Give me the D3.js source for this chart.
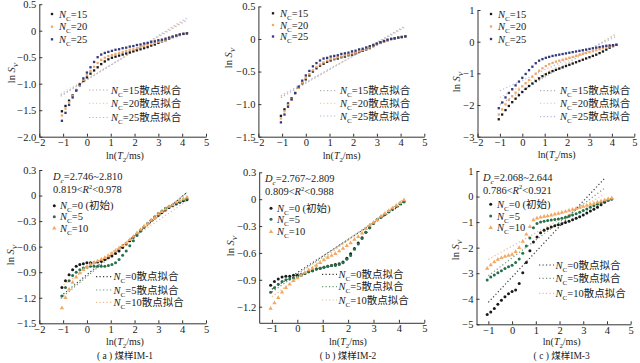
<!DOCTYPE html>
<html>
<head>
<meta charset="utf-8">
<script src="https://cdn.jsdelivr.net/npm/d3@7"></script>
<style>
body { margin: 0; background: #fff; }
svg text { font-family: "Liberation Serif", "Times New Roman", "Noto Sans CJK SC", serif; }
</style>
</head>
<body>
<div id="chart"></div>
<script>
// ln(T2/ms) positions of the NMR bins (shared by all panels)
var lnT2 = [-1.05,-0.9,-0.75,-0.6,-0.45,-0.3,-0.15,0,0.15,0.3,0.45,0.6,0.75,0.9,1.05,1.2,1.35,1.5,
            1.65,1.8,1.95,2.1,2.25,2.4,2.55,2.7,2.85,3.0,3.15,3.3,3.45,3.6,3.75,3.9,4.05,4.2];

// top row: Nc = 15, 20, 25
var topSeriesNames = ["15", "20", "25"];
var a1_nc15 = [-1.52,-1.42,-1.32,-1.22,-1.12,-1.03,-0.95,-0.88,-0.81,-0.75,-0.69,-0.63,-0.58,-0.54,-0.51,-0.49,-0.47,-0.45,
               -0.43,-0.41,-0.39,-0.37,-0.35,-0.33,-0.31,-0.28,-0.26,-0.23,-0.20,-0.18,-0.15,-0.12,-0.10,-0.08,-0.06,-0.05];
var a1_nc20 = [-1.60,-1.47,-1.35,-1.23,-1.12,-1.02,-0.93,-0.84,-0.76,-0.68,-0.61,-0.55,-0.51,-0.48,-0.46,-0.44,-0.42,-0.40,
               -0.38,-0.36,-0.35,-0.33,-0.31,-0.29,-0.27,-0.25,-0.23,-0.21,-0.19,-0.17,-0.14,-0.12,-0.10,-0.08,-0.06,-0.05];
var a1_nc25 = [-1.70,-1.55,-1.40,-1.26,-1.13,-1.01,-0.90,-0.79,-0.69,-0.59,-0.50,-0.45,-0.42,-0.40,-0.38,-0.36,-0.35,-0.33,
               -0.32,-0.30,-0.29,-0.27,-0.26,-0.24,-0.23,-0.21,-0.20,-0.18,-0.17,-0.15,-0.13,-0.11,-0.09,-0.07,-0.06,-0.05];
var a1_fitIntercept = [-0.92, -0.90, -0.93];
var a1_fitSlope = [0.27, 0.26, 0.28];

var b1_nc15 = [-1.18,-1.08,-0.99,-0.91,-0.83,-0.75,-0.68,-0.62,-0.56,-0.50,-0.45,-0.41,-0.38,-0.35,-0.33,-0.31,-0.30,-0.28,
               -0.27,-0.25,-0.24,-0.22,-0.20,-0.18,-0.16,-0.14,-0.11,-0.08,-0.06,-0.04,-0.02,0.00,0.01,0.02,0.03,0.04];
var b1_nc20 = [-1.22,-1.11,-1.01,-0.92,-0.83,-0.75,-0.67,-0.60,-0.54,-0.48,-0.43,-0.39,-0.36,-0.33,-0.31,-0.30,-0.28,-0.27,
               -0.25,-0.24,-0.22,-0.21,-0.19,-0.17,-0.15,-0.13,-0.10,-0.08,-0.06,-0.04,-0.02,0.00,0.01,0.02,0.03,0.04];
var b1_nc25 = [-1.28,-1.16,-1.04,-0.93,-0.83,-0.73,-0.64,-0.56,-0.49,-0.42,-0.37,-0.33,-0.30,-0.29,-0.27,-0.26,-0.25,-0.23,
               -0.22,-0.21,-0.19,-0.18,-0.16,-0.15,-0.13,-0.11,-0.09,-0.07,-0.05,-0.03,-0.01,0.00,0.01,0.02,0.03,0.04];
var b1_fitIntercept = [-0.68, -0.67, -0.66];
var b1_fitSlope = [0.21, 0.205, 0.20];

var c1_nc15 = [-2.45,-2.30,-2.16,-2.03,-1.91,-1.80,-1.69,-1.59,-1.49,-1.40,-1.32,-1.24,-1.16,-1.09,-1.03,-0.98,-0.93,-0.89,
               -0.85,-0.81,-0.77,-0.73,-0.69,-0.65,-0.61,-0.57,-0.53,-0.49,-0.45,-0.41,-0.36,-0.31,-0.25,-0.19,-0.14,-0.10];
var c1_nc20 = [-2.30,-2.14,-1.98,-1.84,-1.72,-1.61,-1.51,-1.41,-1.31,-1.21,-1.11,-1.01,-0.92,-0.84,-0.77,-0.71,-0.67,-0.63,
               -0.60,-0.57,-0.54,-0.51,-0.48,-0.45,-0.42,-0.39,-0.36,-0.33,-0.30,-0.27,-0.24,-0.21,-0.18,-0.15,-0.12,-0.10];
var c1_nc25 = [-2.10,-1.92,-1.76,-1.62,-1.50,-1.38,-1.26,-1.14,-1.02,-0.90,-0.79,-0.68,-0.60,-0.55,-0.51,-0.48,-0.45,-0.43,
               -0.41,-0.39,-0.37,-0.35,-0.33,-0.31,-0.29,-0.27,-0.25,-0.23,-0.21,-0.19,-0.17,-0.15,-0.13,-0.12,-0.11,-0.10];
var c1_fitIntercept = [-1.55, -1.38, -1.22];
var c1_fitSlope = [0.43, 0.38, 0.33];

// bottom row: Nc = 0 (initial), 5, 10
var botSeriesNames = ["0", "5", "10"];
var a2_nc0 = [-1.08,-1.00,-0.93,-0.87,-0.83,-0.81,-0.80,-0.79,-0.79,-0.79,-0.78,-0.77,-0.75,-0.73,-0.71,-0.68,-0.65,-0.61,
              -0.57,-0.53,-0.49,-0.45,-0.41,-0.37,-0.33,-0.29,-0.26,-0.23,-0.20,-0.17,-0.14,-0.12,-0.10,-0.08,-0.06,-0.05];
var a2_nc5 = [-1.18,-1.08,-1.00,-0.94,-0.90,-0.87,-0.85,-0.84,-0.83,-0.83,-0.83,-0.83,-0.83,-0.82,-0.81,-0.79,-0.75,-0.70,
              -0.65,-0.59,-0.53,-0.47,-0.42,-0.37,-0.33,-0.29,-0.25,-0.21,-0.18,-0.15,-0.13,-0.11,-0.09,-0.07,-0.05,-0.04];
var a2_nc10 = [-1.32,-1.20,-1.10,-1.02,-0.96,-0.91,-0.87,-0.84,-0.81,-0.79,-0.77,-0.75,-0.73,-0.71,-0.68,-0.65,-0.62,-0.59,
               -0.56,-0.52,-0.48,-0.44,-0.40,-0.36,-0.33,-0.29,-0.26,-0.22,-0.19,-0.16,-0.13,-0.11,-0.08,-0.06,-0.04,-0.02];
var a2_fitIntercept = [-0.93, -0.95, -0.86];
var a2_fitSlope = [0.23, 0.235, 0.19];

var b2_nc0 = [-0.96,-0.92,-0.89,-0.87,-0.86,-0.86,-0.85,-0.85,-0.84,-0.83,-0.81,-0.80,-0.78,-0.77,-0.76,-0.75,-0.74,-0.73,
              -0.72,-0.70,-0.66,-0.61,-0.55,-0.49,-0.43,-0.37,-0.32,-0.27,-0.23,-0.20,-0.17,-0.14,-0.11,-0.08,-0.05,-0.03];
var b2_nc5 = [-1.04,-0.99,-0.95,-0.92,-0.90,-0.89,-0.88,-0.87,-0.85,-0.83,-0.81,-0.80,-0.78,-0.77,-0.76,-0.75,-0.74,-0.74,
              -0.73,-0.71,-0.67,-0.63,-0.56,-0.50,-0.44,-0.37,-0.32,-0.27,-0.23,-0.20,-0.17,-0.14,-0.11,-0.08,-0.05,-0.03];
var b2_nc10 = [-1.22,-1.16,-1.10,-1.04,-0.99,-0.95,-0.91,-0.88,-0.85,-0.82,-0.79,-0.77,-0.74,-0.71,-0.68,-0.65,-0.63,-0.61,
               -0.58,-0.55,-0.52,-0.49,-0.45,-0.42,-0.38,-0.33,-0.29,-0.26,-0.23,-0.19,-0.16,-0.13,-0.10,-0.07,-0.04,-0.01];
var b2_fitIntercept = [-0.82, -0.84, -0.88];
var b2_fitSlope = [0.185, 0.195, 0.21];

var c2_nc0 = [-4.62,-4.52,-4.38,-4.22,-4.06,-3.92,-3.80,-3.72,-3.66,-3.40,-2.98,-2.58,-2.12,-1.78,-1.58,-1.42,-1.32,-1.25,
              -1.19,-1.14,-1.10,-1.06,-1.02,-0.97,-0.91,-0.85,-0.79,-0.72,-0.64,-0.57,-0.50,-0.42,-0.32,-0.22,-0.14,-0.10];
var c2_nc5 = [-3.27,-3.15,-3.07,-2.98,-2.90,-2.82,-2.75,-2.69,-2.58,-2.44,-2.22,-1.94,-1.62,-1.22,-1.05,-1.00,-0.97,-0.94,
              -0.92,-0.90,-0.88,-0.85,-0.81,-0.77,-0.72,-0.67,-0.61,-0.55,-0.49,-0.42,-0.36,-0.30,-0.24,-0.18,-0.13,-0.10];
var c2_nc10 = [-2.82,-2.68,-2.56,-2.46,-2.40,-2.35,-2.31,-2.27,-2.16,-2.00,-1.76,-1.48,-1.18,-0.92,-0.85,-0.81,-0.78,-0.76,
               -0.73,-0.69,-0.66,-0.62,-0.59,-0.55,-0.51,-0.47,-0.43,-0.39,-0.35,-0.31,-0.27,-0.22,-0.18,-0.14,-0.10,-0.07];
var c2_fitIntercept = [-3.15, -2.40, -1.94];
var c2_fitSlope = [0.99, 0.70, 0.52];

// tick labels
var xTicksFull = [-2, -1, 0, 1, 2, 3, 4, 5];
var xTicksShort = [-1, 0, 1, 2, 3, 4, 5];
var yTicksA1 = [0.5, 0, -0.5, -1.0, -1.5, -2.0];
var yTicksB1 = [0.5, 0, -0.5, -1.0, -1.5];
var yTicksC1 = [1, 0, -1, -2, -3];
var yTicksA2 = [0.3, 0, -0.3, -0.6, -0.9, -1.2, -1.5];
var yTicksB2 = [0.3, 0, -0.3, -0.6, -0.9, -1.2];
var yTicksC2 = [1, 0, -1, -2, -3, -4, -5];

var dcText = ["2.746~2.810", "2.767~2.809", "2.068~2.644"];
var r2Text = [["0.819", "0.978"], ["0.809", "0.988"], ["0.786", "0.921"]];
var captions = ["( a ) 煤样IM-1", "( b ) 煤样IM-2", "( c ) 煤样IM-3"];

var topColors = ["#1a1a1a", "#f0a868", "#33397a"];
var topFitColors = ["#b0b0b0", "#f7cda8", "#b4b8dc"];
var botColors = ["#1a1a1a", "#26704a", "#f2a862"];
var botFitColors = ["#3a3a3a", "#6d9a78", "#f2ba86"];

var svg = d3.select("#chart")
  .append("svg")
  .attr("width", 640)
  .attr("height", 363);

var fmt1 = d => d === 0 ? "0" : d3.format(".1f")(d);
var fmt0 = d => d3.format("d")(d);

// text with italic / subscript / superscript parts
function richText(g, x, y, parts, size, anchor, transform) {
  var t = g.append("text")
    .attr("x", x).attr("y", y)
    .attr("fill", "#222")
    .attr("text-anchor", anchor || "start")
    .style("font-size", size + "px");
  if (transform) t.attr("transform", transform);
  var shift = 0;
  parts.forEach(function(p) {
    var s = t.append("tspan").text(p[0]);
    var style = p[1] || "";
    var target = 0;
    if (style.indexOf("sub") >= 0) { target = size * 0.3; s.style("font-size", (size * 0.68) + "px"); }
    if (style.indexOf("sup") >= 0) { target = -size * 0.4; s.style("font-size", (size * 0.62) + "px"); }
    if (style.indexOf("i") === 0) s.style("font-style", "italic");
    if (target - shift !== 0) s.attr("dy", target - shift);
    shift = target;
  });
  return t;
}

function marker(g, shape, cx, cy, color) {
  if (shape === "square") {
    g.append("rect").attr("x", cx - 1.15).attr("y", cy - 1.15)
      .attr("width", 2.3).attr("height", 2.3).attr("fill", color);
  } else if (shape === "circle") {
    g.append("circle").attr("cx", cx).attr("cy", cy).attr("r", 1.5).attr("fill", color);
  } else {
    g.append("path").attr("d", d3.symbol(d3.symbolTriangle, 8)())
      .attr("transform", `translate(${cx},${cy})`).attr("fill", color);
  }
}

function drawPanel(p) {
  var x = d3.scaleLinear().domain(p.xDomain).range([p.left, p.right]);
  var y = d3.scaleLinear().domain(p.yDomain).range([p.bottom, p.top]);
  var g = svg.append("g");

  var xAxisG = g.append("g")
    .attr("transform", `translate(0,${p.bottom})`)
    .call(d3.axisBottom(x).tickValues(p.xTicks).tickSizeInner(-3).tickSizeOuter(0).tickPadding(2).tickFormat(fmt0));
  var yAxisG = g.append("g")
    .attr("transform", `translate(${p.left},0)`)
    .call(d3.axisLeft(y).tickValues(p.yTicks).tickSizeInner(-3).tickSizeOuter(0).tickPadding(3).tickFormat(p.yFormat));
  [xAxisG, yAxisG].forEach(function(a) {
    a.selectAll("path, line").attr("stroke", "#333");
    a.selectAll("text").attr("fill", "#222").style("font-size", "10.5px")
      .style("font-family", "'Liberation Serif', serif");
  });

  // fitted lines
  var fitLine = d3.line().x(d => x(d[0])).y(d => y(d[1]));
  p.fitA.forEach(function(a, i) {
    var b = p.fitB[i];
    var ends = p.fitRange.map(t => [t, a + b * t]);
    g.append("path").attr("d", fitLine(ends))
      .attr("fill", "none").attr("stroke", p.fitColors[i])
      .attr("stroke-width", 1.2).attr("stroke-dasharray", "1.2,2.3");
  });

  // scatter points
  p.series.forEach(function(ys, i) {
    var pg = g.append("g");
    ys.forEach(function(v, k) {
      marker(pg, p.shapes[i], x(lnT2[k]), y(v), p.colors[i]);
    });
  });

  // point legend
  p.series.forEach(function(ys, i) {
    var cy = p.legend.y[i];
    marker(g, p.shapes[i], p.legend.mx, cy, p.colors[i]);
    var parts = [["N", "i"], ["C", "sub"], ["=" + p.names[i] + (p.initial && i === 0 ? " (初始)" : ""), ""]];
    richText(g, p.legend.tx, cy + 3.6, parts, 10.5);
  });

  // fit legend
  p.series.forEach(function(ys, i) {
    var cy = p.fitLegend.y[i];
    g.append("line")
      .attr("x1", p.fitLegend.x0).attr("x2", p.fitLegend.x1)
      .attr("y1", cy).attr("y2", cy)
      .attr("stroke", p.fitColors[i]).attr("stroke-width", 1.2)
      .attr("stroke-dasharray", "1.2,2.3");
    richText(g, p.fitLegend.tx, cy + 3.6, [["N", "i"], ["C", "sub"], ["=" + p.names[i] + "散点拟合", ""]], 10.5);
  });

  // axis titles
  richText(g, p.xLabel[0], p.xLabel[1], [["ln(", ""], ["T", "i"], ["2", "sub"], ["/ms)", ""]], 10, "middle");
  richText(g, 0, 0, [["ln ", ""], ["S", "i"], ["V", "isub"]], 10.5, "middle",
    `translate(${p.yLabel[0]},${p.yLabel[1]}) rotate(-90)`);

  if (p.dc !== undefined) {
    richText(g, p.dcPos[0], p.dcPos[1], [["D", "i"], ["c", "isub"], ["=" + dcText[p.dc], ""]], 10.5);
    richText(g, p.dcPos[0], p.dcPos[1] + 13, [[r2Text[p.dc][0] + "<", ""], ["R", "i"], ["2", "sup"], ["<" + r2Text[p.dc][1], ""]], 10.5);
    g.append("text")
      .attr("x", p.xLabel[0]).attr("y", 359)
      .attr("text-anchor", "middle")
      .attr("fill", "#222")
      .style("font-size", "9.5px")
      .text(captions[p.dc]);
  }
}

var topShapes = ["square", "square", "square"];
var botShapes = ["circle", "circle", "triangle"];

drawPanel({
  xDomain: [-2, 5], yDomain: [-2, 0.5], left: 39.3, right: 206, top: 4.2, bottom: 136.7,
  xTicks: xTicksFull, yTicks: yTicksA1, yFormat: fmt1,
  series: [a1_nc15, a1_nc20, a1_nc25], names: topSeriesNames, shapes: topShapes,
  colors: topColors, fitColors: topFitColors, fitA: a1_fitIntercept, fitB: a1_fitSlope, fitRange: [-1.1, 4.2],
  legend: { mx: 52, tx: 59, y: [14, 26.7, 39.3] },
  fitLegend: { x0: 89, x1: 108, tx: 111, y: [90, 103.3, 117.5] },
  xLabel: [125, 158.5], yLabel: [15, 73]
});
drawPanel({
  xDomain: [-2, 5], yDomain: [-1.5, 0.5], left: 258.4, right: 424.3, top: 6.4, bottom: 136.7,
  xTicks: xTicksFull, yTicks: yTicksB1, yFormat: fmt1,
  series: [b1_nc15, b1_nc20, b1_nc25], names: topSeriesNames, shapes: topShapes,
  colors: topColors, fitColors: topFitColors, fitA: b1_fitIntercept, fitB: b1_fitSlope, fitRange: [-1.05, 4.15],
  legend: { mx: 273, tx: 280, y: [13.3, 25, 36.5] },
  fitLegend: { x0: 320, x1: 337, tx: 340, y: [90.7, 103.3, 116] },
  xLabel: [341.7, 158.5], yLabel: [231.5, 58]
});
drawPanel({
  xDomain: [-2, 5], yDomain: [-3, 1], left: 477.5, right: 634.3, top: 10, bottom: 136.7,
  xTicks: xTicksFull, yTicks: yTicksC1, yFormat: fmt0,
  series: [c1_nc15, c1_nc20, c1_nc25], names: topSeriesNames, shapes: topShapes,
  colors: topColors, fitColors: topFitColors, fitA: c1_fitIntercept, fitB: c1_fitSlope, fitRange: [-1.0, 4.2],
  legend: { mx: 491, tx: 498, y: [14, 26.5, 39] },
  fitLegend: { x0: 540, x1: 557, tx: 560, y: [90.7, 103.3, 116.7] },
  xLabel: [556.7, 158], yLabel: [460, 82]
});
drawPanel({
  xDomain: [-2, 5], yDomain: [-1.5, 0.3], left: 39.3, right: 206, top: 170, bottom: 323.3,
  xTicks: xTicksFull, yTicks: yTicksA2, yFormat: fmt1,
  series: [a2_nc0, a2_nc5, a2_nc10], names: botSeriesNames, shapes: botShapes, initial: true,
  colors: botColors, fitColors: botFitColors, fitA: a2_fitIntercept, fitB: a2_fitSlope, fitRange: [-1.1, 4.2],
  legend: { mx: 54.3, tx: 60, y: [205.7, 216.7, 228.3] },
  fitLegend: { x0: 96, x1: 112, tx: 113.5, y: [276.7, 290, 302.3] },
  xLabel: [125, 345], yLabel: [14, 255],
  dc: 0, dcPos: [53, 180]
});
drawPanel({
  xDomain: [-1.5, 5], yDomain: [-1.38, 0.3], left: 259.2, right: 424.3, top: 172.3, bottom: 322.8,
  xTicks: xTicksShort, yTicks: yTicksB2, yFormat: fmt1,
  series: [b2_nc0, b2_nc5, b2_nc10], names: botSeriesNames, shapes: botShapes, initial: true,
  colors: botColors, fitColors: botFitColors, fitA: b2_fitIntercept, fitB: b2_fitSlope, fitRange: [-1.0, 4.15],
  legend: { mx: 271, tx: 277, y: [208.3, 219.3, 231.7] },
  fitLegend: { x0: 322, x1: 337, tx: 338.5, y: [274.3, 286.7, 300] },
  xLabel: [348, 345], yLabel: [234, 246],
  dc: 1, dcPos: [265, 182]
});
drawPanel({
  xDomain: [-1.5, 5], yDomain: [-5, 1], left: 476.5, right: 630.7, top: 171, bottom: 324.3,
  xTicks: xTicksShort, yTicks: yTicksC2, yFormat: fmt0,
  series: [c2_nc0, c2_nc5, c2_nc10], names: botSeriesNames, shapes: botShapes, initial: true,
  colors: botColors, fitColors: botFitColors, fitA: c2_fitIntercept, fitB: c2_fitSlope, fitRange: [-1.0, 3.9],
  legend: { mx: 490.7, tx: 497, y: [204.3, 216, 227.7] },
  fitLegend: { x0: 539, x1: 554, tx: 555.5, y: [265, 278.3, 293.3] },
  xLabel: [561.7, 345], yLabel: [459, 250],
  dc: 2, dcPos: [483, 180.5]
});
</script>
</body>
</html>
